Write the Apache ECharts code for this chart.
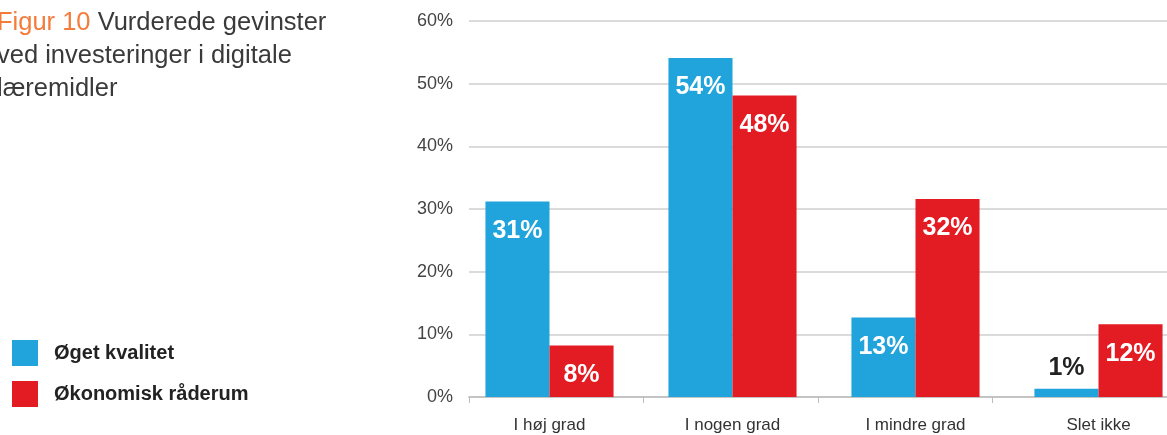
<!DOCTYPE html>
<html>
<head>
<meta charset="utf-8">
<script src="https://cdn.jsdelivr.net/npm/echarts@6/dist/echarts.min.js"></script>
<style>
html,body{margin:0;padding:0;background:#fff;}
#chart{width:1167px;height:435px;}
</style>
</head>
<body>
<div id="chart"></div>
<script>
const categories = ['I høj grad', 'I nogen grad', 'I mindre grad', 'Slet ikke'];
const seriesNames = ['Øget kvalitet', 'Økonomisk råderum'];
const oegetKvalitet = [31.2, 54.1, 12.7, 1.3];
const oekonomiskRaaderum = [8.2, 48.1, 31.6, 11.6];
const yTicks = [0, 10, 20, 30, 40, 50, 60];

const BLUE = '#21A3DC';
const RED = '#E31B23';
const FONT = '"Liberation Sans", Arial, sans-serif';

const chart = echarts.init(document.getElementById('chart'), null, {renderer: 'canvas'});

function labelFor() {
  return {
    show: true,
    position: 'insideTop',
    distance: 17,
    color: '#fff',
    fontFamily: FONT,
    fontWeight: 'bold',
    fontSize: 25,
    formatter: p => Math.round(p.value) + '%'
  };
}

const smallLabel = {position: 'top', distance: 8, color: '#222'};
const blueData = oegetKvalitet.map(v => v < 5 ? {value: v, label: smallLabel} : v);
const redData = oekonomiskRaaderum.map(v => v < 5 ? {value: v, label: smallLabel} : v);

chart.setOption({
  animation: false,
  title: {
    left: -3,
    top: 6,
    padding: 0,
    text: '{o|Figur 10} Vurderede gevinster\nved investeringer i digitale\nlæremidler',
    textStyle: {
      fontFamily: FONT,
      fontSize: 25.5,
      fontWeight: 'normal',
      color: '#3a3a3a',
      lineHeight: 33,
      rich: {
        o: {color: '#F47B3A', fontFamily: FONT, fontSize: 25.5, lineHeight: 33}
      }
    }
  },
  legend: {
    orient: 'vertical',
    left: 12,
    top: 340,
    padding: 0,
    itemWidth: 26,
    itemHeight: 26,
    itemGap: 15,
    icon: 'rect',
    data: seriesNames,
    textStyle: {
      fontFamily: FONT,
      fontWeight: 'bold',
      fontSize: 20,
      color: '#222',
      padding: [0, 0, 0, 11]
    }
  },
  grid: [
    {left: 469, right: 0, top: 21, bottom: 38, containLabel: false, outerBoundsMode: 'none'},
    {left: 458, width: 732, top: 21, bottom: 38, containLabel: false, outerBoundsMode: 'none'}
  ],
  xAxis: [
    {
      type: 'category', gridIndex: 0, data: categories,
      axisLine: {lineStyle: {color: '#c4c4c4', width: 2}},
      axisTick: {show: true, length: 6, lineStyle: {color: '#bdbdbd', width: 1}},
      axisLabel: {show: false},
      splitLine: {show: false}
    },
    {
      type: 'category', gridIndex: 1, data: categories,
      axisLine: {show: false},
      axisTick: {show: false},
      axisLabel: {
        show: true, margin: 20, color: '#333',
        fontFamily: FONT, fontSize: 17
      }
    }
  ],
  yAxis: [
    {
      type: 'value', gridIndex: 0, min: 0, max: 60, interval: 10,
      axisLine: {show: false}, axisTick: {show: false},
      axisLabel: {
        margin: 16, color: '#444', fontFamily: FONT, fontSize: 18,
        formatter: v => yTicks.includes(v) ? v + '%' : ''
      },
      splitLine: {lineStyle: {color: '#cfcfcf', width: 1.5}}
    },
    {
      type: 'value', gridIndex: 1, min: 0, max: 60, interval: 10,
      show: false, splitLine: {show: false}
    }
  ],
  series: [
    {
      name: seriesNames[0], type: 'bar', xAxisIndex: 1, yAxisIndex: 1,
      data: blueData, itemStyle: {color: BLUE},
      barGap: '0%', barCategoryGap: '30%', z: 5,
      label: labelFor()
    },
    {
      name: seriesNames[1], type: 'bar', xAxisIndex: 1, yAxisIndex: 1,
      data: redData, itemStyle: {color: RED},
      barGap: '0%', barCategoryGap: '30%', z: 5,
      label: labelFor()
    }
  ]
});
</script>
</body>
</html>
